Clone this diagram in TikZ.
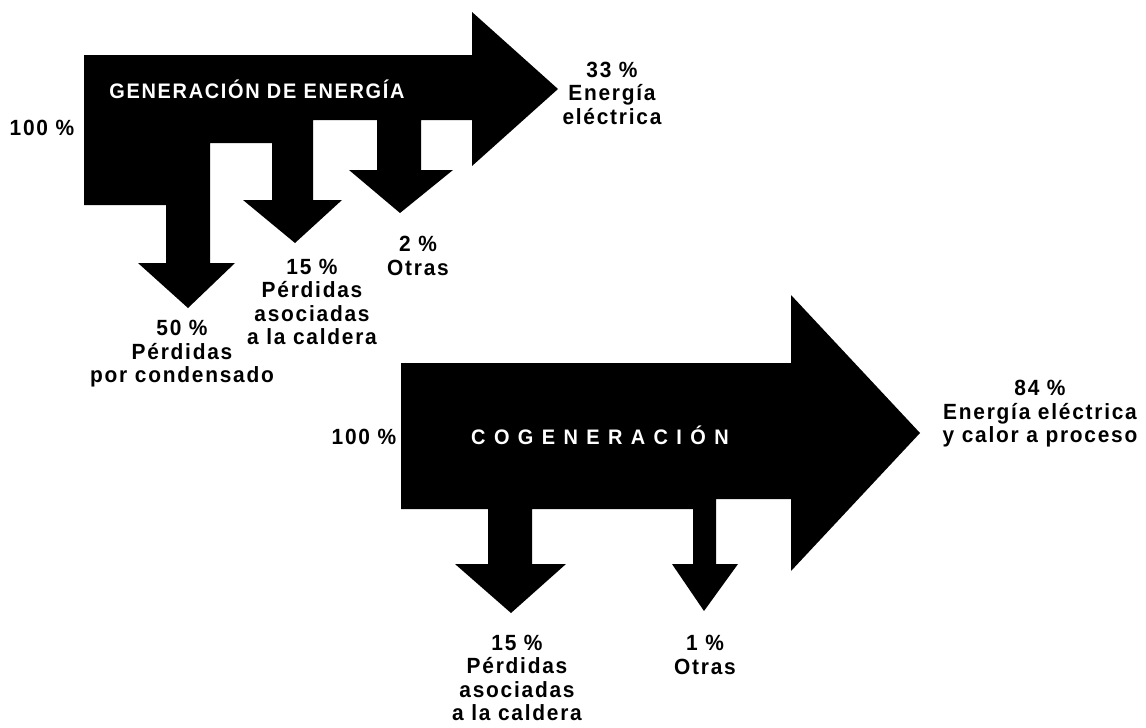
\documentclass[tikz,border=0pt]{standalone}
\usepackage{fontspec}
\setmainfont{Liberation Sans}[LetterSpace=8,FakeStretch=0.95]
\newfontfamily\cogfont{Liberation Sans}[LetterSpace=40,FakeStretch=0.95]
\begin{document}
\begin{tikzpicture}[x=1pt,y=-1pt,
  flow/.style={fill=black,draw=none},
  lbl/.style={font=\fontsize{22}{23.5}\selectfont\bfseries,align=center,inner sep=0pt},
  ttl/.style={font=\fontsize{21}{24}\selectfont\bfseries,text=white,inner sep=0pt},
  cogttl/.style={font=\cogfont\fontsize{21}{24}\selectfont\bfseries,text=white,inner sep=0pt}]
\useasboundingbox (0,0) rectangle (1146,728);
% Generación de energía
\fill[flow] (84,55) -- (472,55) -- (472,12) -- (558,89) -- (472,166) -- (472,120)
  -- (421,120) -- (421,170) -- (453,170) -- (400,213) -- (349,170) -- (377,170) -- (377,120)
  -- (313,120) -- (313,200) -- (342,200) -- (295,243) -- (243,200) -- (272,200) -- (272,143)
  -- (210,143) -- (210,263) -- (235,263) -- (188,308) -- (138,263) -- (166,263) -- (166,205)
  -- (84,205) -- cycle;
% Cogeneración
\fill[flow] (401,363) -- (791,363) -- (791,295) -- (920,433) -- (791,571) -- (791,499)
  -- (716,499) -- (716,564) -- (738,564) -- (704,611) -- (672,564) -- (693,564) -- (693,509)
  -- (532,509) -- (532,564) -- (566,564) -- (511,613) -- (455,564) -- (488,564) -- (488,509)
  -- (401,509) -- cycle;
% labels
\node[lbl] (t100a) at (42,128) {100 \%};
\node[ttl] (tgen) at (257,89) {GENERACIÓN DE ENERGÍA};
\node[lbl] (t33) at (612,93) {33 \%\\Energía\\eléctrica};
\node[lbl] (t50) at (182,354) {50 \%\\Pérdidas\\por condensado};
\node[lbl] (t15a) at (312,302) {15 \%\\Pérdidas\\asociadas\\a la caldera};
\node[lbl] (t2) at (418,256) {2 \%\\Otras};
\node[lbl] (t100b) at (364,437) {100 \%};
\node[cogttl] (tcog) at (600,435) {COGENERACIÓN};
\node[lbl] (t84) at (1040,414) {84 \%\\Energía eléctrica\\y calor a proceso};
\node[lbl] (t15b) at (517,678) {15 \%\\Pérdidas\\asociadas\\a la caldera};
\node[lbl] (t1) at (705,655) {1 \%\\Otras};
\end{tikzpicture}
\end{document}
